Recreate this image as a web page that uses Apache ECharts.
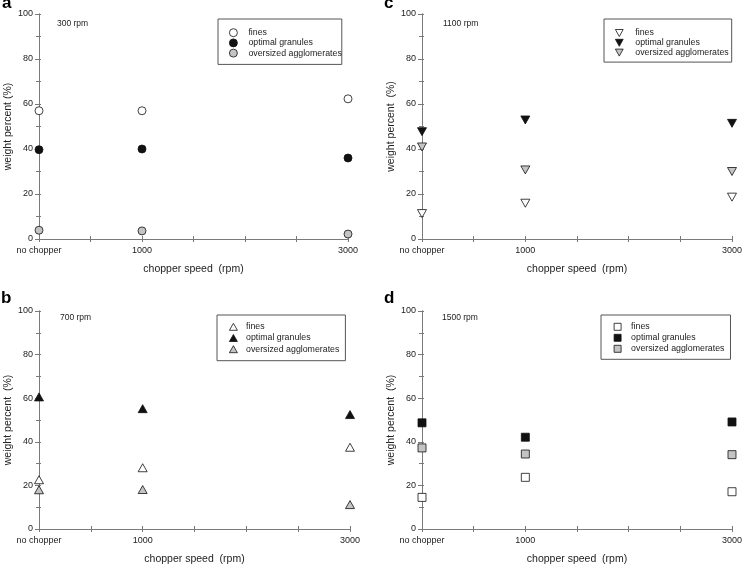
<!DOCTYPE html>
<html>
<head>
<meta charset="utf-8">
<script src="https://cdn.jsdelivr.net/npm/echarts@6/dist/echarts.min.js"></script>
<style>html,body{margin:0;padding:0;background:#fff}#c{width:745px;height:566px}</style>
</head>
<body>
<div id="c"></div>
<script>
// x positions: 0 = "no chopper", 1000 rpm, 3000 rpm
const chopperSpeeds = [0, 1000, 3000];
const xTickLabels = {0: 'no chopper', 1000: '1000', 3000: '3000'};
const seriesNames = ['fines', 'optimal granules', 'oversized agglomerates'];
const panelLetters = ['a', 'c', 'b', 'd'];
const impellerLabels = ['300 rpm', '1100 rpm', '700 rpm', '1500 rpm'];

// panel a: 300 rpm
const a_fines = [57.0, 57.0, 62.3];
const a_optimal = [39.7, 40.0, 36.0];
const a_oversized = [3.9, 3.6, 2.2];
// panel b: 700 rpm
const b_fines = [22.6, 28.1, 37.5];
const b_optimal = [60.6, 55.2, 52.5];
const b_oversized = [18.0, 18.1, 11.2];
// panel c: 1100 rpm
const c_fines = [11.3, 15.9, 18.6];
const c_optimal = [47.7, 52.9, 51.4];
const c_oversized = [40.9, 30.7, 30.0];
// panel d: 1500 rpm
const d_fines = [14.5, 23.7, 17.1];
const d_optimal = [48.7, 42.1, 49.1];
const d_oversized = [37.2, 34.4, 34.1];

const panelData = [
  [a_fines, a_optimal, a_oversized],
  [c_fines, c_optimal, c_oversized],
  [b_fines, b_optimal, b_oversized],
  [d_fines, d_optimal, d_oversized]
];

const FONT = '"Liberation Sans", Arial, sans-serif';
const AXIS_COLOR = '#7a7a7a';
const grids = [
  {left: 39, top: 14, width: 309, height: 225},
  {left: 422, top: 14, width: 312, height: 225},
  {left: 39, top: 311, width: 311, height: 224},
  {left: 422, top: 311, width: 312, height: 224}
];
const DOWN_TRI = 'path://M0,0L10,0L5,9Z';
const symbols = [
  ['circle', 'circle', 'circle'],
  [DOWN_TRI, DOWN_TRI, DOWN_TRI],
  ['triangle', 'triangle', 'triangle'],
  ['rect', 'rect', 'rect']
];
const symSizes = [[8, 8], [9, 8], [9, 8], [8, 8]];
const legendSym = [[8, 8], [8, 7], [8, 7], [7, 7]];
const fills = ['#ffffff', '#111111', '#c4c4c4'];
const legendPos = [
  {left: 218, top: 19, gap: 1.2, padding: [9.2, 0, 6.8, 11], textPad: 6},
  {left: 604, top: 19, gap: 0.8, padding: [9.5, 3, 5, 11], textPad: 7},
  {left: 217, top: 315, gap: 2.2, padding: [7.3, 6, 7, 12], textPad: 3.6},
  {left: 601, top: 315, gap: 2, padding: [7.3, 6, 6, 12.7], textPad: 5}
];
const letterPos = [[2, -5], [384, -5], [1, 290], [384, 290]];
const rpmPos = [[57, 19], [443, 19], [60, 313], [442, 313]];

const xAxes = [], yAxes = [], series = [], legends = [], titles = [];
grids.forEach((g, i) => {
  xAxes.push({
    type: 'value', gridIndex: i, min: 0, max: 3000, interval: 500,
    axisLine: {show: true, lineStyle: {color: AXIS_COLOR}},
    axisTick: {show: true, inside: true, length: 3, lineStyle: {color: AXIS_COLOR}},
    splitLine: {show: false},
    axisLabel: {
      color: '#222', fontSize: 9, fontFamily: FONT, margin: 7, showMinLabel: true, showMaxLabel: true,
      formatter: v => (xTickLabels[v] !== undefined ? xTickLabels[v] : '')
    },
    name: 'chopper speed  (rpm)', nameLocation: 'middle', nameGap: 25,
    nameTextStyle: {fontSize: 10.5, fontFamily: FONT, color: '#222'}
  });
  xAxes.push({
    type: 'value', gridIndex: i, position: 'top', min: 0, max: 3000, interval: 500,
    axisLine: {show: true, lineStyle: {color: AXIS_COLOR}},
    axisTick: {show: true, inside: true, length: 3, lineStyle: {color: AXIS_COLOR}},
    axisLabel: {show: false}, splitLine: {show: false}
  });
  yAxes.push({
    type: 'value', gridIndex: i, min: 0, max: 100, interval: 20,
    axisLine: {show: true, lineStyle: {color: AXIS_COLOR}},
    axisTick: {show: true, inside: false, length: 4, lineStyle: {color: AXIS_COLOR}},
    splitLine: {show: false},
    axisLabel: {color: '#222', fontSize: 9, fontFamily: FONT, margin: 6},
    name: i === 0 ? 'weight percent (%)' : 'weight percent  (%)', nameLocation: 'middle', nameGap: 24,
    nameTextStyle: {fontSize: 10.5, fontFamily: FONT, color: '#222'}
  });
  yAxes.push({
    type: 'value', gridIndex: i, position: 'right', min: 0, max: 100, interval: 10,
    axisLine: {show: true, lineStyle: {color: AXIS_COLOR}},
    axisTick: {show: true, inside: true, length: 3, lineStyle: {color: AXIS_COLOR}},
    axisLabel: {show: false}, splitLine: {show: false}
  });
  yAxes.push({
    type: 'value', gridIndex: i, position: 'left', min: 0, max: 100, interval: 10,
    axisLine: {show: false},
    axisTick: {show: true, inside: true, length: 2, lineStyle: {color: AXIS_COLOR}},
    axisLabel: {show: false}, splitLine: {show: false}
  });
  const suffix = ' '.repeat(i);
  const names = [];
  seriesNames.forEach((nm, k) => {
    const sname = nm + suffix;
    names.push(sname);
    series.push({
      type: 'scatter', name: sname, xAxisIndex: i * 2, yAxisIndex: i * 3,
      symbol: symbols[i][k], symbolSize: symSizes[i], clip: false,
      itemStyle: {color: fills[k], borderColor: '#111', borderWidth: 0.8, opacity: 1},
      emphasis: {disabled: true},
      data: chopperSpeeds.map((x, j) => [x, panelData[i][k][j]])
    });
  });
  const lp = legendPos[i];
  legends.push({
    data: names, orient: 'vertical', left: lp.left, top: lp.top,
    itemWidth: legendSym[i][0], itemHeight: legendSym[i][1], itemGap: lp.gap, padding: lp.padding,
    borderColor: '#555', borderWidth: 1, selectedMode: false,
    itemStyle: {borderWidth: 0.8, borderColor: '#111'},
    formatter: n => n.trim(),
    textStyle: {fontSize: 8.8, fontFamily: FONT, color: '#222', padding: [0, 0, 0, lp.textPad]}
  });
  titles.push({
    text: panelLetters[i], left: letterPos[i][0], top: letterPos[i][1], padding: 0,
    textStyle: {fontSize: 17, fontWeight: 'bold', fontFamily: FONT, color: '#000'}
  });
  titles.push({
    text: impellerLabels[i], left: rpmPos[i][0], top: rpmPos[i][1], padding: 0,
    textStyle: {fontSize: 8.5, fontWeight: 'normal', fontFamily: FONT, color: '#222'}
  });
});

const chart = echarts.init(document.getElementById('c'), null, {renderer: 'canvas'});
chart.setOption({
  animation: false,
  backgroundColor: '#fff',
  title: titles,
  grid: grids,
  xAxis: xAxes,
  yAxis: yAxes,
  legend: legends,
  series: series
});
</script>
</body>
</html>
